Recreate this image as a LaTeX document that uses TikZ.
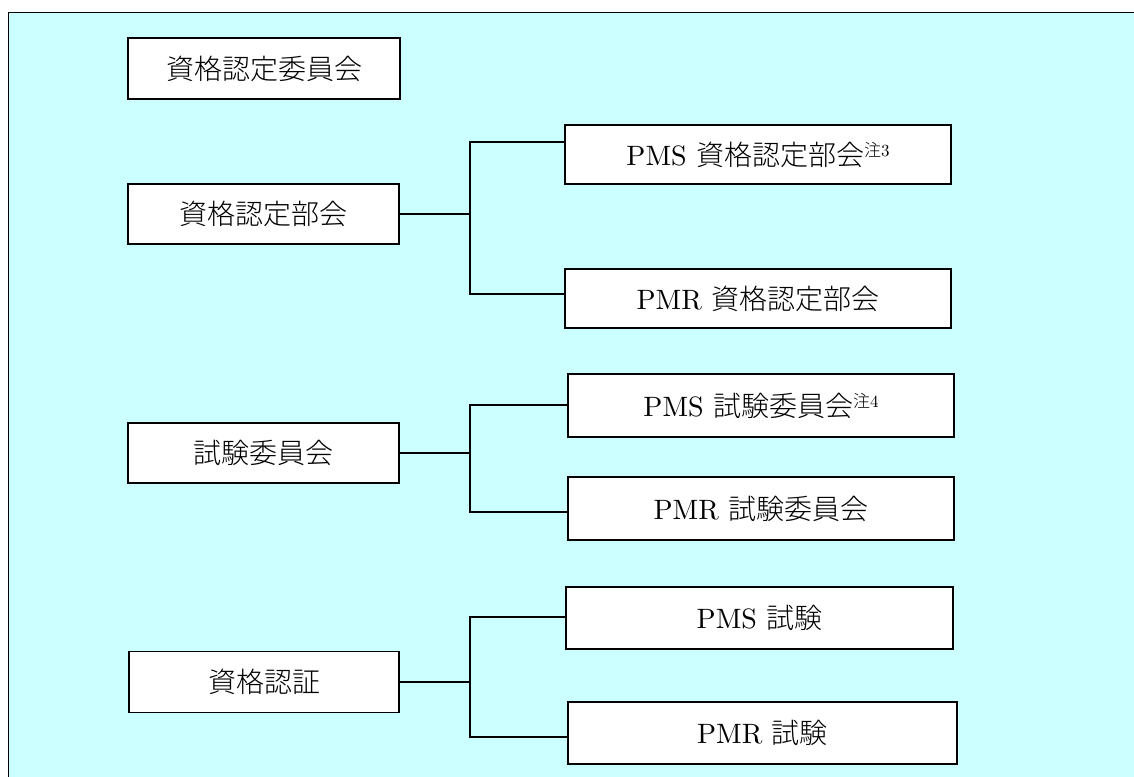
\documentclass[tikz,border=0pt]{standalone}
\usepackage{fontspec}
\setmainfont{lmroman10-regular}[Extension=.otf]
\newfontfamily\jp{Noto Sans CJK JP}[UprightFont={* Light}]
\definecolor{bgcyan}{RGB}{204,255,255}
\begin{document}
\begin{tikzpicture}[x=1pt,y=-1pt,
  box/.style={draw=black, fill=white, line width=1.8pt, inner sep=0pt,
    font=\fontsize{28pt}{32pt}\selectfont},
  leftbox/.style={box, minimum width=271pt, minimum height=60pt},
  rightbox/.style={box, minimum width=387pt, minimum height=61pt},
  conn/.style={draw=black, line width=1.8pt}]
\clip (0,0) rectangle (1134,776);
\fill[bgcyan] (8.5,12.5) rectangle (1150,800);
\draw[line width=1.8pt] (1150,12.5) -- (8.5,12.5) -- (8.5,800);

% left column
\node[leftbox, minimum width=272pt, minimum height=61pt] (A) at (264,68.5) {\jp 資格認定委員会};
\node[leftbox] (B) at (263.5,214) {\jp 資格認定部会};
\node[leftbox] (C) at (263.5,453) {\jp 試験委員会};
\node[leftbox, minimum width=270pt, minimum height=61pt] (D) at (264,682) {\jp 資格認証};

% right column
\node[rightbox, minimum width=386pt, minimum height=59pt] (B1) at (758,154.5) {PMS {\jp 資格認定部会}\raisebox{9pt}{\fontsize{17pt}{18pt}\selectfont{\jp 注}3}};
\node[rightbox, minimum width=386pt, minimum height=59pt] (B2) at (758,298.5) {PMR {\jp 資格認定部会}};
\node[rightbox, minimum width=386pt, minimum height=63pt] (C1) at (761,405.5) {PMS {\jp 試験委員会}\raisebox{9pt}{\fontsize{17pt}{18pt}\selectfont{\jp 注}4}};
\node[rightbox, minimum width=386pt, minimum height=63pt] (C2) at (761,508.5) {PMR {\jp 試験委員会}};
\node[rightbox, minimum height=62pt] (D1) at (759.5,618) {PMS {\jp 試験}};
\node[rightbox, minimum width=389pt, minimum height=62pt] (D2) at (762.5,733) {PMR {\jp 試験}};

% bus coordinates
\coordinate (bus) at (470,0);
\coordinate (jB1) at (565,142);
\coordinate (jB2) at (565,294);
\coordinate (jC1) at (568,405);
\coordinate (jC2) at (568,512);
\coordinate (jD1) at (566,617);
\coordinate (jD2) at (568,737);

\draw[conn] (B.east) -- (bus |- B.east);
\draw[conn] (jB1) -- (bus |- jB1) -- (bus |- jB2) -- (jB2);
\draw[conn] (C.east) -- (bus |- C.east);
\draw[conn] (jC1) -- (bus |- jC1) -- (bus |- jC2) -- (jC2);
\draw[conn] (D.east) -- (bus |- D.east);
\draw[conn] (jD1) -- (bus |- jD1) -- (bus |- jD2) -- (jD2);
\end{tikzpicture}
\end{document}
